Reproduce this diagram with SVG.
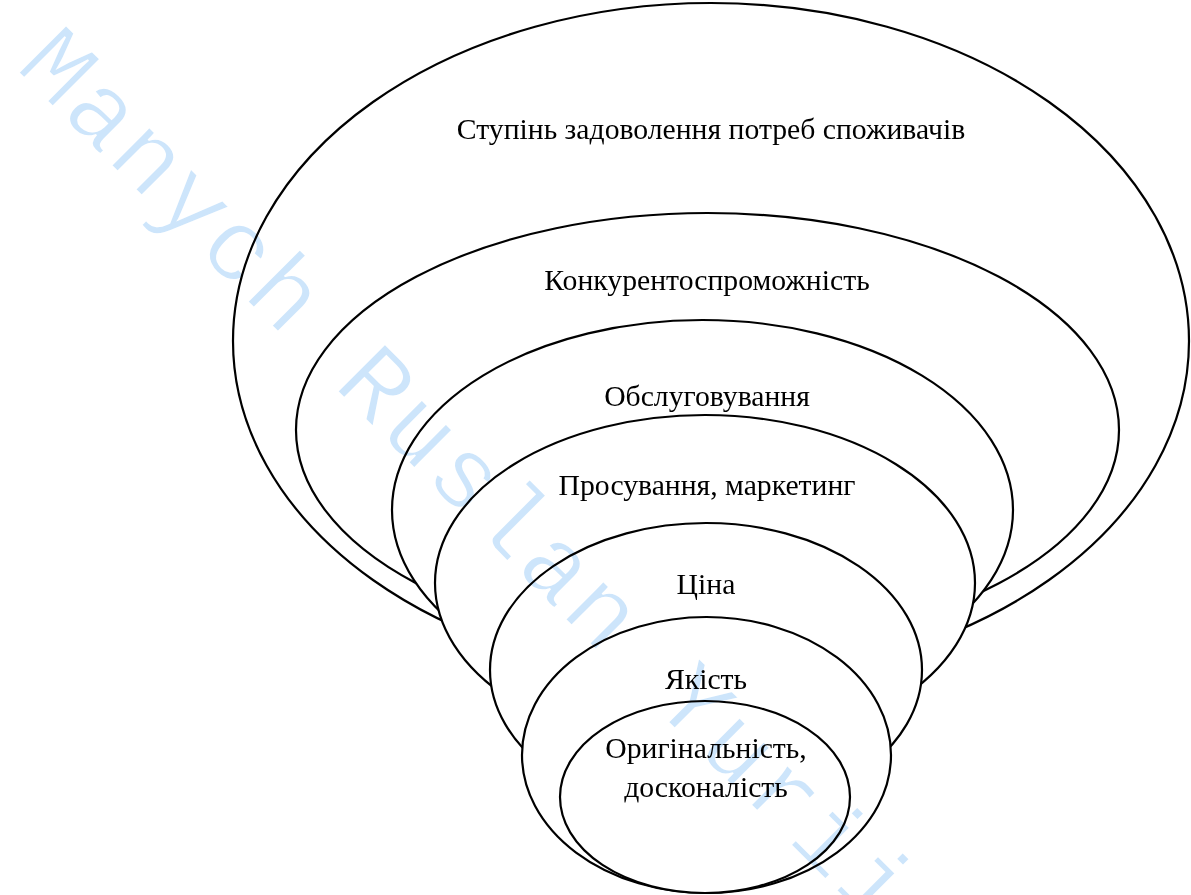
<svg xmlns="http://www.w3.org/2000/svg" width="1191" height="895" viewBox="0 0 1191 895">
  <style>
    .ring { fill: #ffffff; stroke: #000000; stroke-width: 2.2; }
    .lbl { font-family: "Liberation Serif", "Times New Roman", serif; font-size: 29.7px; fill: #000000; text-anchor: middle; }
    .wm { font-family: "Liberation Mono", "Courier New", monospace; font-size: 102px; letter-spacing: 3px; fill: #cde5fb; stroke: #ffffff; stroke-width: 1.8; mix-blend-mode: multiply; }
  </style>
  <rect x="0" y="0" width="1191" height="895" fill="#ffffff"/>
  <g id="node-stupin">
    <ellipse class="ring" cx="711" cy="341" rx="478" ry="338"/>
    <text class="lbl" x="711" y="139">Ступінь задоволення потреб споживачів</text>
  </g>
  <g id="node-konkurento">
    <ellipse class="ring" cx="707.5" cy="430" rx="411.5" ry="217"/>
    <text class="lbl" x="707" y="290">Конкурентоспроможність</text>
  </g>
  <g id="node-obsluh">
    <ellipse class="ring" cx="702.5" cy="510" rx="310.5" ry="190"/>
    <text class="lbl" x="707" y="406">Обслуговування</text>
  </g>
  <g id="node-prosuv">
    <ellipse class="ring" cx="705" cy="583" rx="270" ry="168"/>
    <text class="lbl" x="707" y="495">Просування, маркетинг</text>
  </g>
  <g id="node-tsina">
    <ellipse class="ring" cx="706" cy="670" rx="216" ry="147"/>
    <text class="lbl" x="706" y="594">Ціна</text>
  </g>
  <g id="node-yakist">
    <ellipse class="ring" cx="706.5" cy="755" rx="184.5" ry="138"/>
    <text class="lbl" x="706" y="689">Якість</text>
  </g>
  <g id="node-orig">
    <ellipse class="ring" cx="705" cy="797" rx="145" ry="96"/>
    <text class="lbl" x="706" y="758">Оригінальність,</text>
    <text class="lbl" x="706" y="797">досконалість</text>
  </g>
  <text class="wm" transform="translate(14,68) rotate(45)">Manych Ruslan Yurii</text>
</svg>
